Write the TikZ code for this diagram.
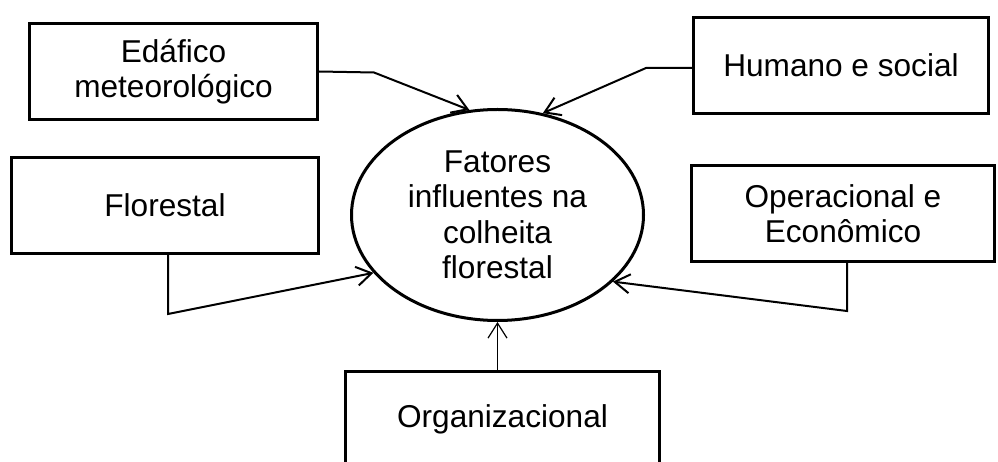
\documentclass[tikz,border=0pt]{standalone}
\usepackage{fontspec}
\setmainfont{Liberation Sans}
\usetikzlibrary{shapes.geometric,arrows.meta}
\begin{document}
\begin{tikzpicture}[x=1pt,y=-1pt,
  every node/.style={font=\fontsize{31.6}{35.5}\selectfont, align=center, inner sep=0pt},
  factor/.style={draw, line width=3pt, minimum height=96pt},
  hub/.style={draw, ellipse, line width=3pt, minimum width=292pt, minimum height=211pt},
  link/.style={line width=2pt, -{Straight Barb[length=15pt,width=19pt]}},
  thinlink/.style={line width=1.2pt, -{Straight Barb[length=15pt,width=19pt]}}]
  \clip (0,0) rectangle (998,462);
  \fill[white] (0,0) rectangle (998,462);

  % central ellipse
  \node[hub] (ell) at (497.5,215) {Fatores\\influentes na\\colheita\\florestal};

  % surrounding factor boxes
  \node[factor, minimum width=288pt] (ed) at (173.5,71.5) {Edáfico\\meteorológico};
  \node[factor, minimum width=295pt] (hu) at (841,65.5) {Humano e social};
  \node[factor, minimum width=307pt] (fl) at (165,205.5) {Florestal};
  \node[factor, minimum width=303pt] (op) at (843,213.5) {Operacional e\\Econômico};
  \node[factor, minimum width=314pt] (org) at (502.5,419.5) {Organizacional};

  % connectors
  \draw[link] (ed.east) -- ++(55,1) -- (ell.105.6);
  \draw[link] ([yshift=-2.5pt]hu.west) -- ++(-46,0) -- (ell.66.3);
  \draw[link] ([xshift=3pt]fl.south) -- ++(0,59) -- (ell.205.6);
  \draw[link] ([xshift=4pt]op.south) -- ++(0,48) -- (ell.330.7);
  \draw[thinlink] (org.north -| ell.south) -- (ell.south);
\end{tikzpicture}
\end{document}
